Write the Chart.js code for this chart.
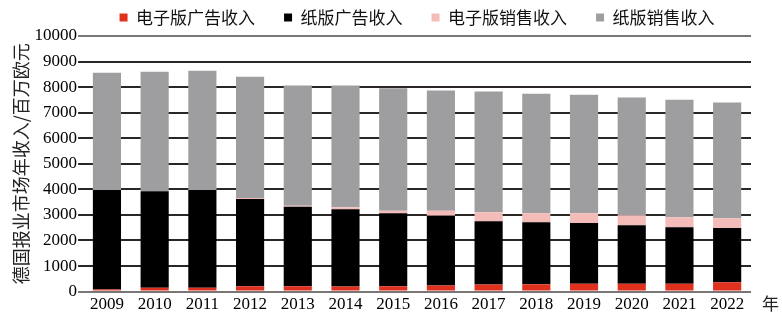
<!DOCTYPE html>
<html>
<head>
<meta charset="utf-8">
<script src="https://cdn.jsdelivr.net/npm/chart.js@4"></script>
<style>
  html, body { margin: 0; padding: 0; background: #fff; }
  #wrap { width: 782px; height: 322px; }
</style>
</head>
<body>
<div id="wrap"><canvas id="revenue"></canvas></div>
<script>
var years = ['2009','2010','2011','2012','2013','2014','2015','2016','2017','2018','2019','2020','2021','2022'];
var eAd = [80, 155, 150, 210, 210, 195, 210, 235, 275, 285, 310, 310, 310, 365];
var printAd = [3895, 3770, 3825, 3415, 3105, 3030, 2860, 2730, 2480, 2430, 2370, 2290, 2210, 2120];
var eSales = [0, 0, 0, 35, 40, 75, 90, 195, 350, 355, 390, 390, 390, 385];
var printSales = [4590, 4680, 4665, 4750, 4705, 4760, 4795, 4705, 4720, 4675, 4635, 4600, 4600, 4530];
var yMax = 10000;
var yStep = 1000;

const cjk = '"Noto Sans CJK SC", sans-serif';
const serif = '"Liberation Serif", "DejaVu Serif", serif';

// "年" next to the last year label
const yearUnit = {
  id: 'yearUnit',
  afterDraw(chart) {
    const c = chart.ctx;
    c.save();
    c.font = '17px ' + cjk;
    c.fillStyle = '#222';
    c.textBaseline = 'middle';
    c.fillText('年', chart.chartArea.right + 11, chart.chartArea.bottom + 12);
    c.restore();
  }
};

const ctx = document.getElementById('revenue').getContext('2d');
const chart = new Chart(ctx, {
  type: 'bar',
  data: {
    labels: years,
    datasets: [
      { label: '电子版广告收入', data: eAd, backgroundColor: '#e0301e' },
      { label: '纸版广告收入', data: printAd, backgroundColor: '#000000' },
      { label: '电子版销售收入', data: eSales, backgroundColor: '#f4bcb8' },
      { label: '纸版销售收入', data: printSales, backgroundColor: '#9e9ea0' }
    ]
  },
  plugins: [yearUnit],
  options: {
    responsive: true,
    maintainAspectRatio: false,
    animation: false,
    datasets: {
      bar: { categoryPercentage: 1, barPercentage: 0.59, borderWidth: 0 }
    },
    layout: { padding: { left: 10, right: 31, top: -20, bottom: 4 } },
    plugins: {
      legend: {
        position: 'top',
        fullSize: false,
        labels: {
          boxWidth: 8,
          boxHeight: 8,
          padding: 29,
          color: '#111',
          font: { family: cjk, size: 17 }
        }
      },
      tooltip: { enabled: false }
    },
    scales: {
      x: {
        stacked: true,
        grid: { display: false, drawTicks: false },
        border: { display: false },
        ticks: { color: '#000', font: { family: serif, size: 17 }, padding: 3, maxRotation: 0 }
      },
      y: {
        stacked: true,
        min: 0,
        max: yMax,
        border: { display: false },
        grid: {
          color: function (c) {
            return (c.tick && (c.tick.value === 0 || c.tick.value === yMax)) ? '#7a7676' : '#2b2626';
          },
          lineWidth: 2,
          tickLength: 5
        },
        ticks: {
          stepSize: yStep,
          autoSkip: false,
          color: '#000',
          font: { family: serif, size: 17 },
          padding: 1,
          callback: function (v) { return String(v); }
        },
        title: {
          display: true,
          text: '德国报业市场年收入/百万欧元',
          color: '#222',
          font: { family: cjk, size: 18 },
          padding: { top: 0, bottom: 2 }
        }
      }
    }
  }
});
</script>
</body>
</html>
